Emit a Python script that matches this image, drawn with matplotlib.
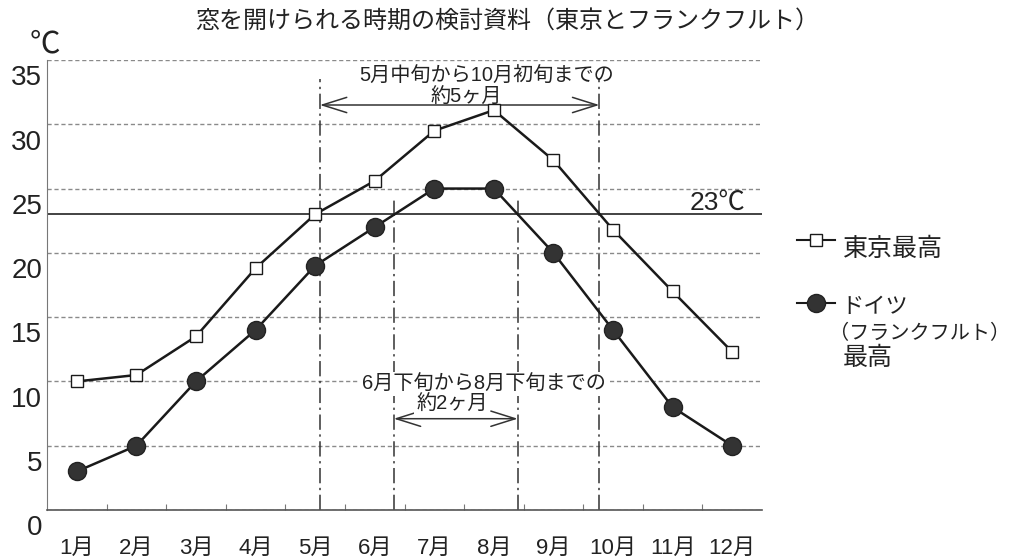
import matplotlib
matplotlib.use('Agg')
import matplotlib.pyplot as plt
from matplotlib.lines import Line2D
from matplotlib.transforms import ScaledTranslation

plt.rcParams['font.family'] = ['Liberation Sans', 'Noto Sans CJK JP', 'DejaVu Sans']

months = ['1月', '2月', '3月', '4月', '5月', '6月', '7月', '8月', '9月', '10月', '11月', '12月']
tokyo_max = [10.0, 10.5, 13.5, 18.8, 23.0, 25.6, 29.5, 31.1, 27.2, 21.8, 17.0, 12.3]
frankfurt_max = [3.0, 5.0, 10.0, 14.0, 19.0, 22.0, 25.0, 25.0, 20.0, 14.0, 8.0, 5.0]

threshold = 23
# window period boundaries, in month index units (0 = January)
tokyo_window = (4.08, 8.77)      # mid May -> early October
frankfurt_window = (5.32, 7.40)  # late June -> late August

x = list(range(len(months)))

fig = plt.figure(figsize=(10.15, 5.57), dpi=100)
ax = fig.add_axes([47 / 1015, 47 / 557, 715 / 1015, 450 / 557])

ax.set_xlim(-0.5, 11.5)
ax.set_ylim(0, 35)

# grid / axes
ax.set_yticks(range(0, 36, 5))
ax.yaxis.grid(True, color='#8a8a8a', linestyle=(0, (3, 2)), linewidth=1)
ax.set_axisbelow(True)
for s in ['top', 'right']:
    ax.spines[s].set_visible(False)
ax.spines['left'].set_color('#777777')
ax.spines['bottom'].set_color('#555555')
ax.spines['bottom'].set_linewidth(1.2)

ax.tick_params(axis='y', length=0, labelsize=20, pad=3.5, colors='#222222')
off = ScaledTranslation(0, -11 / 72, fig.dpi_scale_trans)
for lab in ax.get_yticklabels():
    lab.set_transform(lab.get_transform() + off)

ax.set_xticks([i + 0.5 for i in range(11)])
ax.set_xticklabels([])
ax.tick_params(axis='x', which='major', direction='in', length=4.5, color='#777777')
ax.set_xticks(x, minor=True)
ax.set_xticklabels(months, minor=True)
ax.tick_params(axis='x', which='minor', length=0, labelsize=16, pad=20, colors='#222222')

# 23 degree line
ax.axhline(threshold, color='#222222', linewidth=1.2, zorder=2)
ax.text(11.22, threshold + 0.9, f'{threshold}℃', fontsize=19, ha='right', va='center', color='#222222')

# period boundaries
dashdot = (0, (10, 3, 1.5, 3))
for xv in tokyo_window:
    ax.plot([xv, xv], [0, 33.5], color='#333333', linewidth=1.1, linestyle=dashdot, zorder=2)
for xv in frankfurt_window:
    ax.plot([xv, xv], [0, 24.3], color='#333333', linewidth=1.1, linestyle=dashdot, zorder=2)

arrow = dict(arrowstyle='<->,head_length=1.75,head_width=0.55', color='#333333',
             lw=1.1, shrinkA=0, shrinkB=0, mutation_scale=10)
ax.annotate('', xy=(tokyo_window[0], 31.5), xytext=(tokyo_window[1], 31.5), arrowprops=arrow)
ax.annotate('', xy=(frankfurt_window[0], 7.1), xytext=(frankfurt_window[1], 7.1), arrowprops=arrow)

ax.text(6.87, 33.75, '5月中旬から10月初旬までの', fontsize=14.5, ha='center', va='center', color='#222222')
ax.text(6.53, 32.1, '約5ヶ月', fontsize=14.5, ha='center', va='center', color='#222222')
box = dict(facecolor='white', edgecolor='none', pad=1.5)
ax.text(6.83, 9.8, '6月下旬から8月下旬までの', fontsize=14.5, ha='center', va='center',
        color='#222222', bbox=box, zorder=4)
ax.text(6.30, 8.25, '約2ヶ月', fontsize=14.5, ha='center', va='center',
        color='#222222', bbox=box, zorder=4)

# series
ax.plot(x, tokyo_max, color='#1a1a1a', linewidth=1.8, marker='s', markersize=8,
        markerfacecolor='white', markeredgecolor='#1a1a1a', markeredgewidth=1, zorder=5)
ax.plot(x, frankfurt_max, color='#1a1a1a', linewidth=1.8, marker='o', markersize=13,
        markerfacecolor='#333333', markeredgecolor='#222222', zorder=5)

# unit label and title
fig.text(45 / 1015, 1 - 44 / 557, '℃', fontsize=22, ha='center', va='center', color='#222222')
fig.text(0.5, 1 - 21 / 557, '窓を開けられる時期の検討資料（東京とフランクフルト）',
         fontsize=17.3, ha='center', va='center', color='#222222')

# legend
def fx(px):
    return px / 1015

def fy(py):
    return 1 - py / 557

fig.add_artist(Line2D([fx(797), fx(835)], [fy(240), fy(240)], color='#1a1a1a', linewidth=1.5))
fig.add_artist(Line2D([fx(816)], [fy(240)], marker='s', markersize=8, markerfacecolor='white',
                      markeredgecolor='#1a1a1a', markeredgewidth=1))
fig.text(fx(843), fy(249), '東京最高', fontsize=18, ha='left', va='center', color='#222222')

fig.add_artist(Line2D([fx(797), fx(835)], [fy(303), fy(303)], color='#1a1a1a', linewidth=1.5))
fig.add_artist(Line2D([fx(816)], [fy(303)], marker='o', markersize=13, markerfacecolor='#333333',
                      markeredgecolor='#222222'))
fig.text(fx(841), fy(307), 'ドイツ', fontsize=16, ha='left', va='center', color='#222222')
fig.text(fx(829), fy(333), '（フランクフルト）', fontsize=14.5, ha='left', va='center', color='#222222')
fig.text(fx(843), fy(358), '最高', fontsize=18, ha='left', va='center', color='#222222')

fig.savefig('out.png', dpi=100)
